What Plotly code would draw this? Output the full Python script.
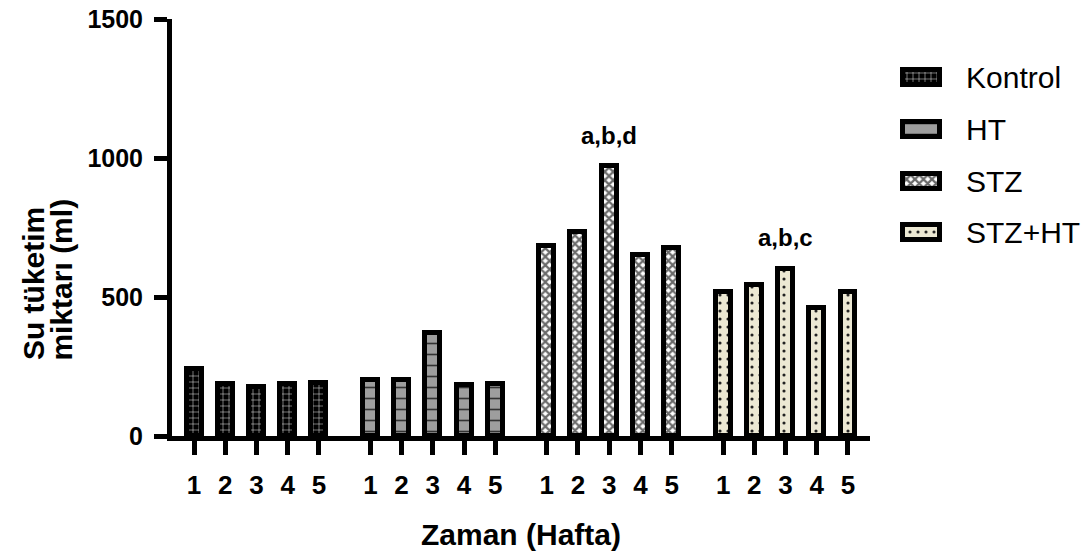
import plotly.graph_objects as go

# ---- data ----
groups = ["Kontrol", "HT", "STZ", "STZ+HT"]
weeks = ["1", "2", "3", "4", "5"]
kontrol = [241, 188, 177, 188, 191]
ht = [200, 200, 370, 185, 188]
stz = [683, 734, 971, 652, 677]
stz_ht = [518, 544, 602, 460, 518]
values = [kontrol, ht, stz, stz_ht]
sig_labels = {"STZ": "a,b,d", "STZ+HT": "a,b,c"}
sig_week = "3"
y_ticks = [0, 500, 1000, 1500]

# ---- layout constants (screen px targets) ----
GROUP_STEP = 5.65
FONT = "Liberation Sans"
W, H = 1088, 558
ML, MR, MT = 172, 20, 19
MB = H - 436.5
PW = W - ML - MR
PH = H - MT - MB


def px_x(p):
    return (p - ML) / PW


def px_y(p):
    return (H - MB - p) / PH


styles = {
    "Kontrol": dict(color="black",
                    pattern=dict(shape="+", fgcolor="white", bgcolor="black",
                                 size=6, solidity=0.15, fillmode="replace")),
    "HT": dict(color="#9a9a9a",
               pattern=dict(shape="-", fgcolor="#333333", bgcolor="#9e9e9e",
                            size=11, solidity=0.15, fillmode="replace")),
    "STZ": dict(color="#bbbbbb",
                pattern=dict(shape="x", fgcolor="#6a6a6a", bgcolor="white",
                             size=6, solidity=0.6, fillmode="replace")),
    "STZ+HT": dict(color="#ece8d3",
                   pattern=dict(shape=".", fgcolor="#222222", bgcolor="#ece8d3",
                                size=8, solidity=0.12, fillmode="replace")),
}

fig = go.Figure()

tickvals, ticktext = [], []
annotations = []
for g, name in enumerate(groups):
    xs = [g * GROUP_STEP + i for i in range(len(weeks))]
    tickvals += xs
    ticktext += weeks
    st = styles[name]
    fig.add_trace(go.Bar(
        x=xs, y=values[g], width=0.48, name=name, showlegend=False,
        marker=dict(color=st["color"], pattern=st["pattern"],
                    line=dict(color="black", width=5)),
        xaxis="x", yaxis="y",
    ))
    if name in sig_labels:
        k = weeks.index(sig_week)
        annotations.append(dict(
            x=xs[k], y=values[g][k], xref="x", yref="y", text=sig_labels[name],
            showarrow=False, yshift=31, yanchor="middle",
            font=dict(family=FONT, size=24, color="black", weight="bold"),
        ))

# ---- manual legend (swatches on a hidden axis) ----
for k, name in enumerate(groups):
    st = styles[name]
    fig.add_trace(go.Bar(
        x=[1], y=[3 - k], base=0, orientation="h", width=0.29, showlegend=False,
        marker=dict(color=st["color"], pattern=st["pattern"],
                    line=dict(color="black", width=5)),
        xaxis="x2", yaxis="y2", hoverinfo="skip",
    ))
    annotations.append(dict(
        x=px_x(964), y=3 - k, xref="paper", yref="y2", text=name,
        xanchor="left", yanchor="middle", showarrow=False,
        font=dict(family=FONT, size=30, color="black"),
    ))

# axis titles
annotations.append(dict(
    x=px_x(521), y=px_y(535), xref="paper", yref="paper", text="Zaman (Hafta)",
    showarrow=False, xanchor="center", yanchor="middle",
    font=dict(family=FONT, size=30, color="black", weight="bold"),
))
for line_text, cx in (("Su tüketim", 33), ("miktarı (ml)", 62)):
    annotations.append(dict(
        x=px_x(cx), y=px_y(363), xref="paper", yref="paper",
        text=line_text, textangle=-90,
        showarrow=False, xanchor="center", yanchor="bottom",
        font=dict(family=FONT, size=30, color="black", weight="bold"),
    ))

x0 = -22 / 31.2
x1 = 3 * GROUP_STEP + 4 + 22 / 31.2

fig.update_layout(
    width=W, height=H,
    margin=dict(l=ML, r=MR, t=MT, b=MB, autoexpand=False),
    plot_bgcolor="white", paper_bgcolor="white",
    bargap=0, barmode="overlay",
    annotations=annotations,
    xaxis=dict(
        domain=[0, px_x(870)], range=[x0, x1],
        tickvals=tickvals, ticktext=ticktext,
        showline=True, linecolor="black", linewidth=5,
        ticks="outside", ticklen=14, tickwidth=5, tickcolor="black",
        showgrid=False, zeroline=False, ticklabelstandoff=8,
        ticklabeloverflow="allow",
        tickfont=dict(family=FONT, size=26, color="black", weight="bold"),
        anchor="y", fixedrange=True, automargin=False,
    ),
    yaxis=dict(
        range=[0, 1500], tickvals=y_ticks,
        showline=True, linecolor="black", linewidth=5,
        ticks="outside", ticklen=13, tickwidth=5, tickcolor="black",
        showgrid=False, zeroline=False, ticklabelstandoff=6,
        ticklabeloverflow="allow",
        tickfont=dict(family=FONT, size=25, color="black", weight="bold"),
        anchor="x", fixedrange=True, automargin=False,
    ),
    xaxis2=dict(domain=[px_x(898), px_x(944)], range=[-0.1216, 1.1216],
                visible=False, anchor="y2", fixedrange=True),
    yaxis2=dict(domain=[px_y(259), px_y(52)], range=[-0.5, 3.5],
                visible=False, anchor="x2", fixedrange=True),
)

fig.write_html(
    "out.html",
    config={"displayModeBar": False},
    post_script="document.body.style.margin='0';document.body.style.overflow='hidden';",
)
